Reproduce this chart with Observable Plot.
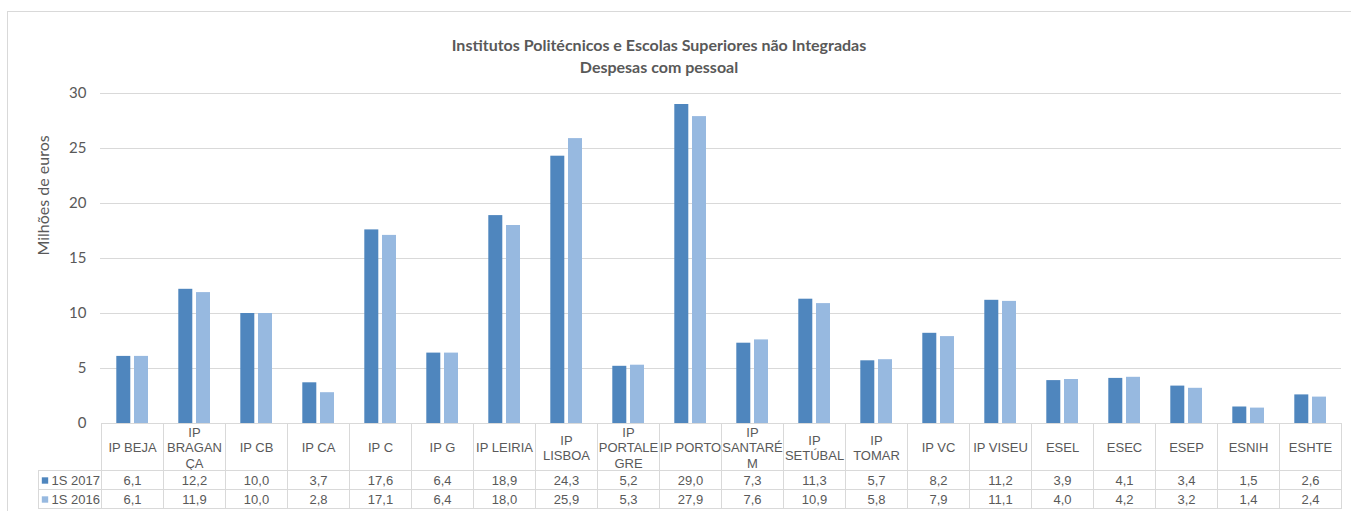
<!DOCTYPE html>
<html>
<head>
<meta charset="utf-8">
<script src="https://cdn.jsdelivr.net/npm/d3@7"></script>
<script src="https://cdn.jsdelivr.net/npm/@observablehq/plot@0.6"></script>
<style>
  html, body { margin: 0; padding: 0; background: #fff; }
</style>
</head>
<body>
<div id="chart"></div>
<script>
const titleText = "Institutos Politécnicos e Escolas Superiores não Integradas\nDespesas com pessoal";
const yLabel = "Milhões de euros";
const categories = ["IP BEJA","IP BRAGANÇA","IP CB","IP CA","IP C","IP G","IP LEIRIA","IP LISBOA","IP PORTALEGRE","IP PORTO","IP SANTARÉM","IP SETÚBAL","IP TOMAR","IP VC","IP VISEU","ESEL","ESEC","ESEP","ESNIH","ESHTE"];
const tickLabels = ["IP BEJA","IP\nBRAGAN\nÇA","IP CB","IP CA","IP C","IP G","IP LEIRIA","IP\nLISBOA","IP\nPORTALE\nGRE","IP PORTO","IP\nSANTARÉ\nM","IP\nSETÚBAL","IP\nTOMAR","IP VC","IP VISEU","ESEL","ESEC","ESEP","ESNIH","ESHTE"];
const seriesNames = ["1S 2017", "1S 2016"];
const s2017 = [6.1,12.2,10.0,3.7,17.6,6.4,18.9,24.3,5.2,29.0,7.3,11.3,5.7,8.2,11.2,3.9,4.1,3.4,1.5,2.6];
const s2016 = [6.1,11.9,10.0,2.8,17.1,6.4,18.0,25.9,5.3,27.9,7.6,10.9,5.8,7.9,11.1,4.0,4.2,3.2,1.4,2.4];
const yTicks = [0,5,10,15,20,25,30];

const colors = ["#4f86be", "#97b9e0"];
const textColor = "#595959";
const lineColor = "#d9d9d9";
const calibriLike = "Lato, 'Open Sans', sans-serif";
const arialLike = "'Liberation Sans', Arial, sans-serif";

const rows = categories.map((c, i) => ({category: c, label: tickLabels[i], v2017: s2017[i], v2016: s2016[i]}));
const fmt = v => v.toFixed(1).replace(".", ",");

const plot = Plot.plot({
  width: 1351,
  height: 511,
  marginLeft: 100,
  marginRight: 10,
  marginTop: 93,
  marginBottom: 88,
  style: {background: "#fff", color: textColor, overflow: "visible"},
  x: {domain: categories, padding: 0, axis: null},
  y: {domain: [0, 30], axis: null},
  marks: [
    Plot.gridY(yTicks.filter(t => t > 0), {stroke: lineColor, strokeOpacity: 1, strokeWidth: 1}),
    Plot.axisY(yTicks, {tickSize: 0, tickPadding: 14, fontSize: 15, fontFamily: calibriLike, fill: textColor, label: null}),
    Plot.barY(rows, {x: "category", y: "v2017", fill: colors[0], insetLeft: 15.3, insetRight: 32.7}),
    Plot.barY(rows, {x: "category", y: "v2016", fill: colors[1], insetLeft: 33, insetRight: 15}),
    // table header (category labels)
    Plot.text(rows, {x: "category", text: "label", frameAnchor: "bottom", dy: 24, lineAnchor: "middle", lineHeight: 1.19, fontSize: 13, fontFamily: arialLike, fill: textColor}),
    // table value rows
    Plot.text(rows, {x: "category", text: d => fmt(d.v2017), frameAnchor: "bottom", dy: 57, lineAnchor: "middle", fontSize: 13, fontFamily: arialLike, fill: textColor}),
    Plot.text(rows, {x: "category", text: d => fmt(d.v2016), frameAnchor: "bottom", dy: 76, lineAnchor: "middle", fontSize: 13, fontFamily: arialLike, fill: textColor}),
    // row headers
    Plot.text([seriesNames[0]], {text: d => d, frameAnchor: "bottom-left", dx: -49, dy: 57, textAnchor: "start", lineAnchor: "middle", fontSize: 13, fontFamily: arialLike, fill: textColor}),
    Plot.text([seriesNames[1]], {text: d => d, frameAnchor: "bottom-left", dx: -49, dy: 76, textAnchor: "start", lineAnchor: "middle", fontSize: 13, fontFamily: arialLike, fill: textColor}),
    Plot.dot([seriesNames[0]], {frameAnchor: "bottom-left", dx: -55.5, dy: 57, symbol: "square", r: 3.6, fill: colors[0], stroke: null}),
    Plot.dot([seriesNames[1]], {frameAnchor: "bottom-left", dx: -55.5, dy: 76, symbol: "square", r: 3.6, fill: colors[1], stroke: null}),
    // y label
    Plot.text([yLabel], {text: d => d, frameAnchor: "left", rotate: -90, dx: -57, dy: -3, fontSize: 16, fontFamily: calibriLike, fill: textColor}),
    // title
    Plot.text([titleText], {text: d => d, frameAnchor: "top", dx: -62, dy: -39, lineAnchor: "middle", lineHeight: 1.38, fontSize: 16, fontWeight: "bold", fontFamily: calibriLike, fill: textColor})
  ]
});

// Table grid lines and outer frame, positioned with the plot's own x and y scales
const xs = plot.scale("x");
const ys = plot.scale("y");
const bw = xs.bandwidth;
const x0 = xs.apply(categories[0]);
const x1 = xs.apply(categories[categories.length - 1]) + bw;
const yZero = ys.apply(0);
const rowTop = yZero + 47.5, rowMid = yZero + 66.5, rowBot = yZero + 85.5;
const leftCol = x0 - 63;
const svg = d3.select(plot);
const g = svg.insert("g", ":first-child").attr("stroke", lineColor).attr("fill", "none").attr("shape-rendering", "crispEdges");
g.append("rect").attr("x", 7.5).attr("y", 11.5).attr("width", 1400).attr("height", 600).attr("fill", "#fff");
const gl = svg.append("g").attr("stroke", lineColor).attr("fill", "none").attr("shape-rendering", "crispEdges");
gl.append("line").attr("x1", x0).attr("x2", x1).attr("y1", yZero).attr("y2", yZero);
for (const y of [rowTop, rowMid, rowBot]) gl.append("line").attr("x1", leftCol).attr("x2", x1).attr("y1", y).attr("y2", y);
for (const c of categories) {
  const x = xs.apply(c);
  gl.append("line").attr("x1", x).attr("x2", x).attr("y1", yZero).attr("y2", rowBot);
}
gl.append("line").attr("x1", x1).attr("x2", x1).attr("y1", yZero).attr("y2", rowBot);
gl.append("line").attr("x1", leftCol).attr("x2", leftCol).attr("y1", rowTop).attr("y2", rowBot);

document.getElementById("chart").appendChild(plot);
</script>
</body>
</html>
